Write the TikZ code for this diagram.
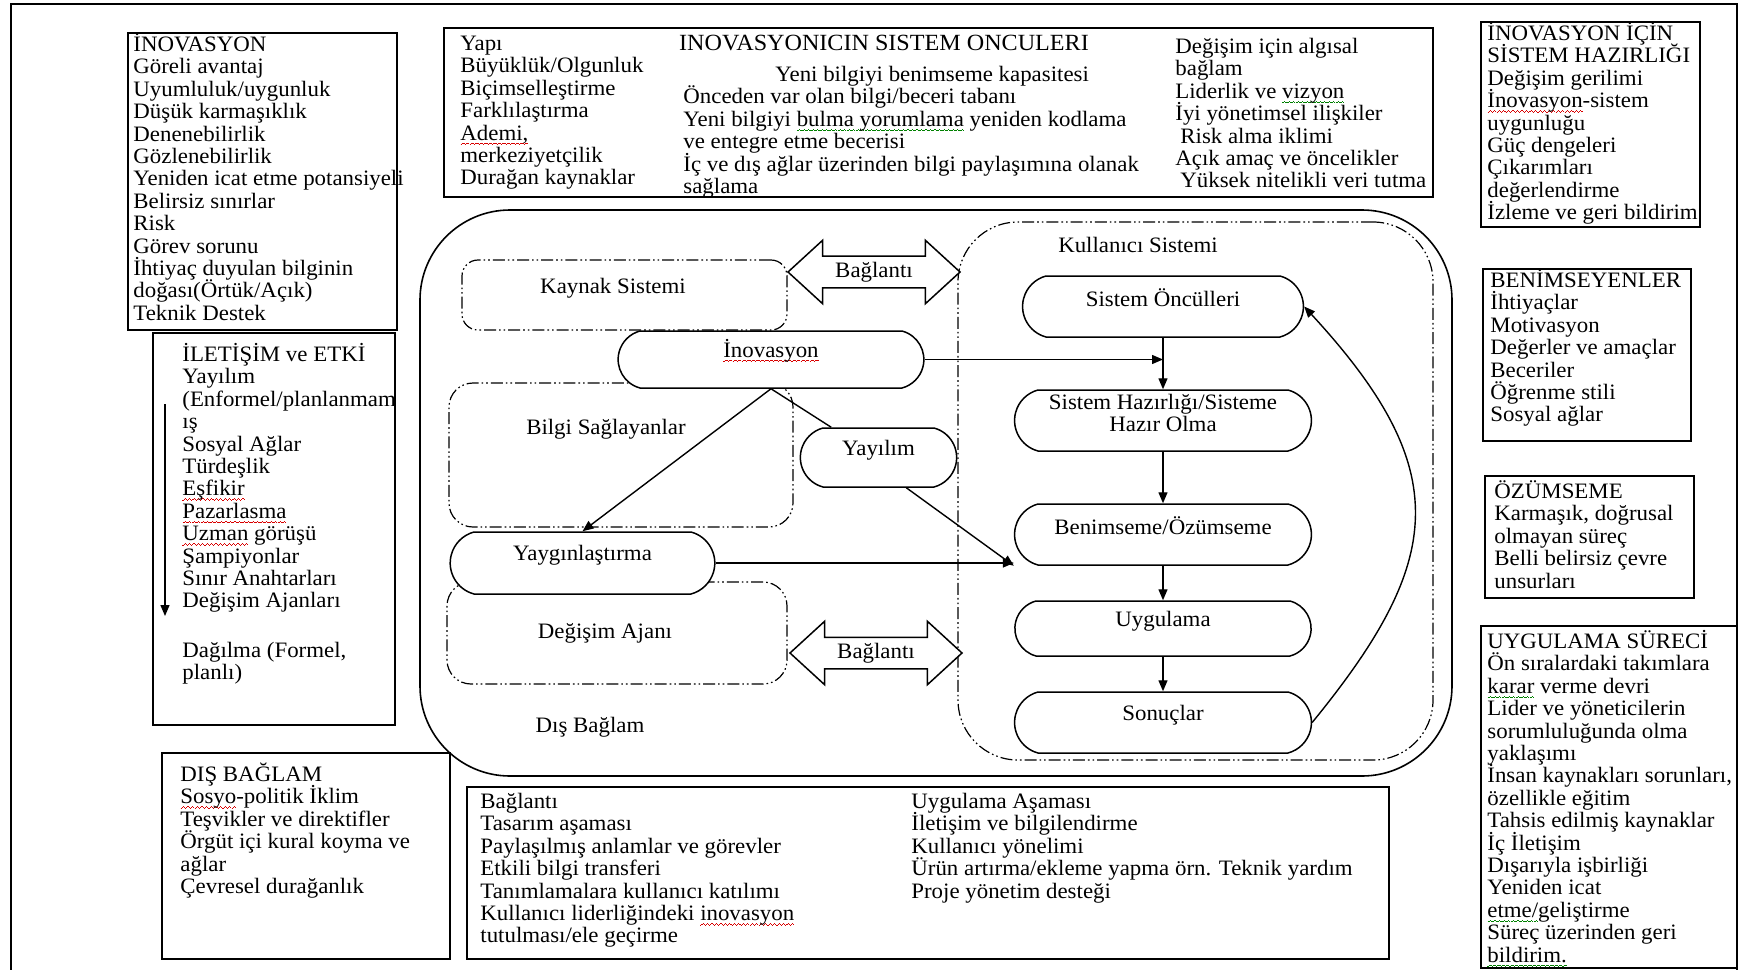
\documentclass[tikz,border=0pt]{standalone}
\usepackage{fontspec}
\setmainfont{Liberation Serif}[FakeStretch=1.04]
\usetikzlibrary{arrows.meta,shapes.misc,shapes.arrows,fit,calc}

% text settings: fixed line pitch, lines never pushed apart
\newcommand\bodyfont{\fontsize{11}{11.2}\selectfont\lineskiplimit=-\maxdimen}
\newcommand\titlefont{\fontsize{11.6}{13}\selectfont}
\newcommand\fl{\rule{0pt}{10.5pt}}
% wavy spell-check underlines, built from small rules
\newsavebox\sqbox
\newcommand\sqw[2]{\sbox\sqbox{#2}\rlap{\hbox to\wd\sqbox{\color{#1}\xleaders\hbox{%
  \rule[-2.5pt]{0.55pt}{0.45pt}\rule[-2.1pt]{0.55pt}{0.45pt}%
  \rule[-1.7pt]{0.55pt}{0.45pt}\rule[-2.1pt]{0.55pt}{0.45pt}}\hfill}}\usebox\sqbox}
\newcommand\sqr[1]{\sqw{red!85!black}{#1}}
\newcommand\sqg[1]{\sqw{green!50!black}{#1}}

\begin{document}
\begin{tikzpicture}[x=0.5pt,y=-0.5pt,
  every node/.style={inner sep=0pt},
  txt/.style={anchor=north west, align=left, font=\bodyfont},
  box/.style={draw, line width=0.9pt},
  dbox/.style={draw, line width=0.6pt, rounded corners=#1,
    dash pattern=on 6pt off 1.5pt on 0.8pt off 1.5pt on 0.8pt off 1.5pt},
  stad/.style={draw, line width=0.75pt, fill=white, shape=rounded rectangle,
    rounded rectangle arc length=150, align=center, font=\bodyfont},
  lab/.style={font=\bodyfont, align=center},
  conn/.style={line width=0.7pt, -{Triangle[length=5.5pt,width=4.5pt]}},
  link/.style={draw, line width=0.75pt, fill=white, shape=double arrow,
    double arrow head extend=8pt, double arrow tip angle=85,
    minimum height=86pt, minimum width=31pt, inner xsep=2pt, inner ysep=2.5pt,
    font=\bodyfont},
]
\useasboundingbox (0,0) rectangle (1742,970);

% page frame
\draw[line width=1pt] (11,990) -- (11,4) -- (1737,4) -- (1737,990);

% ---------- side and top panels ----------
\node[box, fit={(128,33) (397,330)}] (pinn) {};
\node[txt] (pinnT) at (133,30) {\fl İNOVASYON\\Göreli avantaj\\Uyumluluk/uygunluk\\Düşük karmaşıklık\\Denenebilirlik\\Gözlenebilirlik\\Yeniden icat etme potansiyeli\\Belirsiz sınırlar\\Risk\\Görev sorunu\\İhtiyaç duyulan bilginin\\doğası(Örtük/Açık)\\Teknik Destek};

\node[box, fit={(444,28) (1433,197)}] (pant) {};
\node[font=\titlefont] (title) at (884,43) {INOVASYONICIN SISTEM ONCULERI};
\node[txt] (pantA) at (460,29) {\fl Yapı\\Büyüklük/Olgunluk\\Biçimselleştirme\\Farklılaştırma\\\sqr{Ademi,}\\merkeziyetçilik\\Durağan kaynaklar};
\node[txt] (pantB) at (683,60) {\fl\hspace*{46pt}Yeni bilgiyi benimseme kapasitesi\\Önceden var olan bilgi/beceri tabanı\\Yeni bilgiyi \sqg{bulma yorumlama} yeniden kodlama\\ve entegre etme becerisi\\İç ve dış ağlar üzerinden bilgi paylaşımına olanak\\sağlama};
\node[txt] (pantC) at (1175,32) {\fl Değişim için algısal\\bağlam\\Liderlik ve \sqg{vizyon}\\İyi yönetimsel ilişkiler\\\hspace*{2.5pt}Risk alma iklimi\\Açık amaç ve öncelikler\\\hspace*{2.5pt}Yüksek nitelikli veri tutma};

\node[box, fit={(1481,22) (1700,227)}] (pready) {};
\node[txt] (preadyT) at (1487,19) {\fl İNOVASYON İÇİN\\SİSTEM HAZIRLIĞI\\Değişim gerilimi\\\sqr{İnovasyon}-sistem\\uygunluğu\\Güç dengeleri\\Çıkarımları\\değerlendirme\\İzleme ve geri bildirim};

\node[box, fit={(1483,269) (1691,441)}] (padopt) {};
\node[txt] (padoptT) at (1490,266) {\fl BENİMSEYENLER\\İhtiyaçlar\\Motivasyon\\Değerler ve amaçlar\\Beceriler\\Öğrenme stili\\Sosyal ağlar};

\node[box, fit={(1485,476) (1694,598)}] (passim) {};
\node[txt] (passimT) at (1494,477) {\fl ÖZÜMSEME\\Karmaşık, doğrusal\\olmayan süreç\\Belli belirsiz çevre\\unsurları};

\node[box, fit={(1481,626) (1737,968)}] (pimpl) {};
\node[txt] (pimplT) at (1487,627) {\fl UYGULAMA SÜRECİ\\Ön sıralardaki takımlara\\\sqg{karar} verme devri\\Lider ve yöneticilerin\\sorumluluğunda olma\\yaklaşımı\\İnsan kaynakları sorunları,\\özellikle eğitim\\Tahsis edilmiş kaynaklar\\İç İletişim\\Dışarıyla işbirliği\\Yeniden icat\\\sqg{etme/}geliştirme\\Süreç üzerinden geri\\\sqg{bildirim.}};

\node[box, fit={(153,333) (395,725)}] (pcomm) {};
\node[txt] (pcommT) at (182,340) {\fl İLETİŞİM ve ETKİ\\Yayılım\\(Enformel/planlanmam\\ış\\Sosyal Ağlar\\Türdeşlik\\\sqr{Eşfikir}\\\sqr{Pazarlasma}\\\sqr{Uzman} görüşü\\Şampiyonlar\\Sınır Anahtarları\\Değişim Ajanları\\[13.6pt]Dağılma (Formel,\\planlı)};
\coordinate (cmA) at (165,404);
\coordinate (cmB) at (165,616);
\draw[conn] (cmA) -- (cmB);

\node[box, fit={(162,753) (450,959)}] (pouter) {};
\node[txt] (pouterT) at (180,760) {\fl DIŞ BAĞLAM\\\sqr{Sosyo}-politik İklim\\Teşvikler ve direktifler\\Örgüt içi kural koyma ve\\ağlar\\Çevresel durağanlık};

\node[box, fit={(467,787) (1389,959)}] (plink) {};
\node[txt] (plinkA) at (480,787) {\fl Bağlantı\\Tasarım aşaması\\Paylaşılmış anlamlar ve görevler\\Etkili bilgi transferi\\Tanımlamalara kullanıcı katılımı\\Kullanıcı liderliğindeki \sqr{inovasyon}\\tutulması/ele geçirme};
\node[txt] (plinkB) at (911,787) {\fl Uygulama Aşaması\\İletişim ve bilgilendirme\\Kullanıcı yönelimi\\Ürün artırma/ekleme yapma örn. Teknik yardım\\Proje yönetim desteği};

% ---------- central model ----------
\node[draw, line width=0.8pt, rounded corners=45pt, fit={(420,210) (1452,776)}] (ctx) {};
\node[dbox=30pt, fit={(958,222) (1433,760)}] (user) {};
\node[dbox=8pt, fit={(462,260) (787,330)}] (src) {};
\node[dbox=12pt, fit={(449,383) (793,527)}] (prov) {};
\node[dbox=12pt, fit={(447,582) (787,684)}] (agent) {};

\node[lab] (srcL) at (613,288) {Kaynak Sistemi};
\node[lab] (provL) at (606,429) {Bilgi Sağlayanlar};
\node[lab] (agentL) at (605,633) {Değişim Ajanı};
\node[lab] (ctxL) at (590,727) {Dış Bağlam};
\node[lab] (userL) at (1138,245) {Kullanıcı Sistemi};

\node[link] (lnkA) at (874,272) {Bağlantı};
\node[link] (lnkB) at (876,653) {Bağlantı};

% rounded-end boxes (fit spans the straight part; the end arcs add about 23px per side)
\node[stad, fit={(640,331) (902,388)}] (inov) {\sqr{İnovasyon}};
\node[stad, fit={(823,428) (934,487)}] (yayilim) {Yayılım};
\node[stad, fit={(474,532) (691,594)}] (yayg) {Yaygınlaştırma};

% user-system chain, all centred on x = 1163
\node[stad, fit={(1046,276) (1280,337)}] (oncul) {Sistem Öncülleri};
\node[stad, fit={(1038,390) (1288,451)}] (hazir) {Sistem Hazırlığı/Sisteme\\Hazır Olma};
\node[stad, fit={(1038,504) (1288,565)}] (benim) {Benimseme/Özümseme};
\node[stad, fit={(1036,601) (1290,656)}] (uygul) {Uygulama};
\node[stad, fit={(1038,692) (1288,753)}] (sonuc) {Sonuçlar};

% connectors
\draw[conn] (inov.east) -- (inov.east -| oncul.south);
\draw[conn] (oncul.south) -- (hazir.north);
\draw[conn] (hazir.south) -- (benim.north);
\draw[conn] (benim.south) -- (uygul.north);
\draw[conn] (uygul.south) -- (sonuc.north);
\draw[conn] (inov.south) -- (yayg.north);
\draw[line width=0.7pt] (inov.south) -- (yayilim);
\draw[conn] ($(yayilim.south)!0.5!(yayilim.south east)$) -- (benim.south -| benim.west);
\draw[conn] (yayg.east) -- (benim.west |- yayg.east);
\draw[conn] (sonuc.east) .. controls (1445,560) and (1455,470) .. (oncul.east);
\end{tikzpicture}
\end{document}
